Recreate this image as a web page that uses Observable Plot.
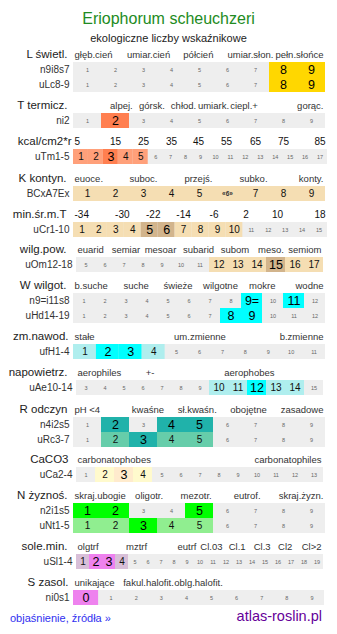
<!DOCTYPE html>
<html><head><meta charset="utf-8">
<script src="https://cdn.jsdelivr.net/npm/d3@7"></script>
<script src="https://cdn.jsdelivr.net/npm/@observablehq/plot@0.6"></script>
<style>
body{margin:0;background:#fff;font-family:"Liberation Sans",Arial,sans-serif;}
#c{position:relative;width:337px;height:634px;overflow:hidden;background:#fff}
.t{position:absolute;white-space:nowrap}
.sec{position:absolute;left:0}
.sec svg{display:block;overflow:visible}
</style></head><body><div id="c"></div>
<script>
// ---------- data ----------
const title = "Eriophorum scheuchzeri";
const subtitle = "ekologiczne liczby wskaźnikowe";
const footerLink = "objaśnienie, źródła »";
const footerBrand = "atlas-roslin.pl";

const sectionNames = ["L świetl.", "T termicz.", "kcal/cm2*r", "K kontyn.", "min.śr.m.T", "wilg.pow.", "W wilgot.", "zm.nawod.", "napowietrz.", "R odczyn", "CaCO3", "N żyznoś.", "sole.min.", "S zasol."];
const scaleStart = [1, 1, 1, 1, 1, 5, 1, 1, 3, 1, 1, 1, 1, 0];
const scaleEnd   = [9, 9, 17, 9, 15, 17, 12, 11, 15, 9, 13, 9, 19, 9];

const catLabels = [
  ["głęb.cień", "umiar.cień", "półcień", "umiar.słon.", "pełn.słońce"],
  ["alpej.", "górsk.", "chłod.", "umiark.", "ciepl.+", "gorąc."],
  ["5", "15", "25", "35", "45", "55", "65", "75", "85"],
  ["euoce.", "suboc.", "przejś.", "subko.", "konty."],
  ["-34", "-30", "-22", "-14", "-6", "2", "10", "18"],
  ["euarid", "semiar", "mesoar", "subarid", "subom", "meso.", "semiom"],
  ["b.suche", "suche", "świeże", "wilgotne", "mokre", "wodne"],
  ["stałe", "um.zmienne", "b.zmienne"],
  ["aerophiles", "+-", "aerophobes"],
  ["pH <4", "kwaśne", "sł.kwaśn.", "obojętne", "zasadowe"],
  ["carbonatophobes", "carbonatophiles"],
  ["skraj.ubogie", "oligotr.", "mezotr.", "eutrof.", "skraj.żyzn."],
  ["olgtrf", "mztrf", "eutrf", "Cl.03", "Cl.1", "Cl.3", "Cl2", "Cl>2"],
  ["unikające", "fakul.halofit.", "oblg.halofit."]
];
// tick positions of the category labels, in each scale's own units
const catPos = [
  [0.5, 3.18, 4.96, 6.82, 9.5],
  [2.21, 3.3, 4.43, 5.5, 6.59, 9.5],
  [0.5, 3.31, 5.19, 7.06, 8.87, 10.74, 12.68, 14.56, 17.5],
  [0.5, 3.0, 4.96, 6.93, 9.5],
  [0.5, 3.38, 5.21, 7.0, 8.8, 10.69, 12.55, 15.5],
  [4.5, 7.1, 8.92, 10.92, 12.84, 14.74, 17.5],
  [0.5, 3.48, 5.48, 7.5, 9.49, 12.5],
  [0.5, 6.02, 11.5],
  [2.5, 6.37, 11.6],
  [0.5, 3.16, 4.92, 6.75, 9.5],
  [0.5, 13.5],
  [0.5, 3.2, 4.88, 6.7, 9.5],
  [0.5, 5.12, 9.0, 10.88, 12.86, 14.78, 16.55, 19.5],
  [-0.5, 2.49, 4.48]
];

const rowNames = [["n9i8s7", "uLc8-9"], ["ni2"], ["uTm1-5"], ["BCxA7Ex"], ["uCr1-10"], ["uOm12-18"], ["n9=i11s8", "uHd14-19"], ["ufH1-4"], ["uAe10-14"], ["n4i2s5", "uRc3-7"], ["uCa2-4"], ["n2i1s5", "uNt1-5"], ["uSl1-4"], ["ni0s1"]];
const primaryVals = [[[8, 9], [8, 9]], [[2]], [[3]], [[]], [[5, 6]], [[15]], [[9, 11], [8, 9]], [[2, 3]], [[12]], [[2, 4, 5], [3]], [[3]], [[1, 2, 5], [3]], [[2, 3]], [[0]]];
const secondaryVals = [[[], []], [[]], [[1, 2, 4, 5]], [[1, 2, 3, 4, 5, 6, 7, 8, 9]], [[1, 2, 3, 4, 7, 8, 9, 10]], [[12, 13, 14, 16, 17]], [[], []], [[1, 4]], [[10, 11, 13, 14]], [[], [2, 4, 5]], [[2, 4]], [[], [1, 2, 4, 5]], [[1, 4]], [[]]];
const cellTextOverrides = {"BCxA7Ex": {6: "«6»"}, "n9=i11s8": {9: "9="}};

// ---------- styles / layout ----------
const primaryColor   = ["#ffd700", "#ff7f50", "#ff7f50", null, "#d2b48c", "#d2b48c", "#00ffff", "#00ffff", "#00ffff", "#20b2aa", "#ffebcd", "#00ff00", "#ee82ee", "#ee82ee"];
const secondaryColor = [null, null, "#ffa07a", "#f5deb3", "#f5deb3", "#f5deb3", null, "#afeeee", "#afeeee", "#66cdaa", "#fffacd", "#90ee90", "#d8bfd8", null];
const rowLeft  = [73, 73, 73, 73, 73, 76, 73, 73, 76, 73, 76, 73, 76, 73];
const rowRight = [325, 325, 327, 325, 327, 323, 325, 325, 323, 325, 323, 325, 323, 324];
const rowTop   = [61.5, 113, 148.5, 185.5, 221.5, 257, 292.5, 344, 380, 416.5, 467, 502.5, 554, 590];
const headerRight = [67, 67, 71, 66, 66, 66, 66, 68, 67, 67, 68, 67, 67, 68];
const FONT = "'Liberation Sans', Arial, sans-serif";

const root = document.getElementById("c");
function addText(txt, css) {
  const d = document.createElement("div");
  d.className = "t"; d.textContent = txt; Object.assign(d.style, css); root.appendChild(d);
}
addText(title, {left: "0", width: "337px", textAlign: "center", top: "11px", fontSize: "16px", lineHeight: "16px", color: "#228b22"});
addText(subtitle, {left: "0", width: "337px", textAlign: "center", top: "32.5px", fontSize: "11px", lineHeight: "11px", color: "#222"});
addText(footerLink, {left: "10px", top: "612px", fontSize: "11px", lineHeight: "12px", color: "#3030f0"});
addText(footerBrand, {right: "15px", top: "608px", fontSize: "14.5px", lineHeight: "16px", color: "#660099"});

function sectionPlot(i) {
  const v0 = scaleStart[i], vN = scaleEnd[i];
  const rows = rowNames[i];
  const cells = [];
  rows.forEach((row, r) => {
    for (let v = v0; v <= vN; v++) {
      const lvl = primaryVals[i][r].includes(v) ? 2 : secondaryVals[i][r].includes(v) ? 1 : 0;
      const ov = (cellTextOverrides[row] || {})[v];
      cells.push({row, v, lvl, label: ov ?? String(v), special: !!(ov && ov.includes("«"))});
    }
  });
  const cats = catLabels[i].map((t, k) => ({t, x: catPos[i][k]}));
  const anchorOf = d => d.x <= v0 - 0.5 ? "start" : d.x >= vN + 0.5 ? "end" : "middle";
  const numeric = i === 2 || i === 4;
  const ml = rowLeft[i], mr = 337 - rowRight[i];
  const mt = 20, rh = 15;
  const fillOf = d => d.lvl === 2 ? primaryColor[i] : secondaryColor[i];
  return Plot.plot({
    width: 337, height: mt + rh * rows.length,
    marginTop: mt, marginBottom: 0, marginLeft: ml, marginRight: mr,
    x: {domain: [v0 - 0.5, vN + 0.5], axis: null},
    y: {type: "band", domain: rows, padding: 0, axis: null},
    color: {type: "identity"},
    style: {fontFamily: FONT, fontSize: "10px", background: "transparent", overflow: "visible"},
    marks: [
      Plot.barX(rows, {x1: () => v0 - 0.5, x2: () => vN + 0.5, y: d => d, fill: "#eeeeee"}),
      Plot.barX(cells.filter(d => d.lvl > 0), {x1: d => d.v - 0.5, x2: d => d.v + 0.5, y: "row", fill: fillOf}),
      Plot.text(cells.filter(d => d.lvl === 0), {x: "v", y: "row", text: "label", fontSize: 5.5, fill: "#666"}),
      Plot.text(cells.filter(d => d.lvl === 1 && !d.special), {x: "v", y: "row", text: "label", fontSize: 10, fill: "#111"}),
      Plot.text(cells.filter(d => d.special), {x: "v", y: "row", text: "label", fontSize: 6.5, fontWeight: "bold", fill: "#333"}),
      Plot.text(cells.filter(d => d.lvl === 2), {x: "v", y: "row", text: "label", fontSize: 12.5, fill: "#000"}),
      ...["start", "middle", "end"].map(a => Plot.text(cats.filter(d => anchorOf(d) === a), {
        x: "x", text: "t", frameAnchor: "top", lineAnchor: "middle", dy: -8, textAnchor: a,
        dx: a === "start" ? 1 : a === "end" ? -2 : 0,
        fontSize: numeric ? 10 : 9.5, fill: numeric ? "#111" : "#333"
      })),
      Plot.text(rows, {y: d => d, text: d => d, frameAnchor: "left", textAnchor: "end", dx: -4, fontSize: 10, fill: "#333"}),
      Plot.text([sectionNames[i]], {text: d => d, frameAnchor: "top-left", lineAnchor: "middle", textAnchor: "end", dx: headerRight[i] - ml, dy: -8, fontSize: 11.5, fill: "#222"})
    ]
  });
}

sectionNames.forEach((_, i) => {
  const wrap = document.createElement("div");
  wrap.className = "sec";
  wrap.style.top = (rowTop[i] - 20) + "px";
  wrap.appendChild(sectionPlot(i));
  root.appendChild(wrap);
});
</script></body></html>
